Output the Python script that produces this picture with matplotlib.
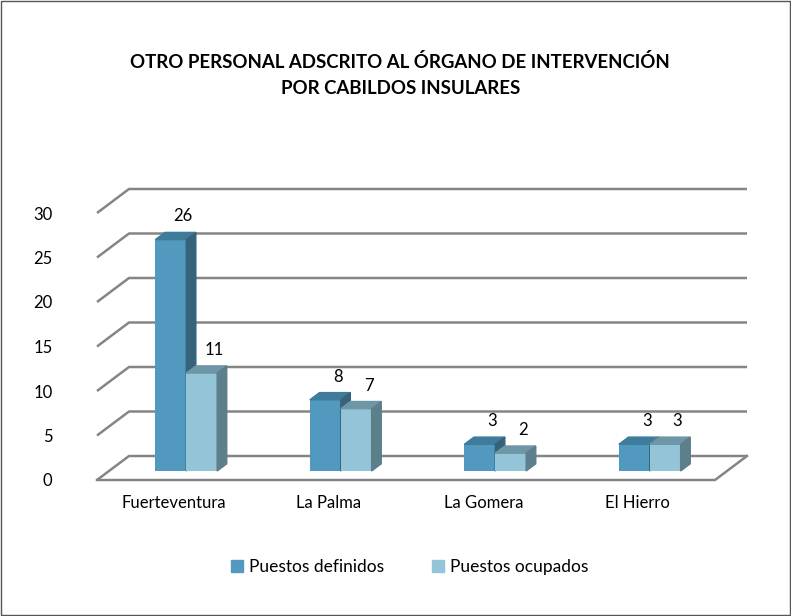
import numpy as np
import matplotlib.pyplot as plt
from matplotlib.patches import Polygon, Patch, Rectangle

plt.rcParams['font.family'] = ['Lato', 'DejaVu Sans']

islas = ['Fuerteventura', 'La Palma', 'La Gomera', 'El Hierro']
definidos = [26, 8, 3, 3]
ocupados = [11, 7, 2, 3]
series = ['Puestos definidos', 'Puestos ocupados']
yticks = [0, 5, 10, 15, 20, 25, 30]

# colours: front, top, side
col_def = ('#5199be', '#3f7c9b', '#35637c')
col_ocu = ('#93c4d7', '#6f96a7', '#5d7e8b')
grid_col = '#858585'

fig = plt.figure(figsize=(7.91, 6.16), dpi=100)
fig.patches.append(Rectangle((0.0008, 0.001), 0.998, 0.997, transform=fig.transFigure,
                             fill=False, edgecolor='#555555', lw=1))
ax = fig.add_axes([97 / 791, 136 / 616, 618 / 791, 267 / 616])
ax.set_xlim(0, 4)
ax.set_ylim(0, 30)

# depth of the floor in data units
DX, DY = 32 / 154.5, 24 / 8.9
n = len(islas)

# back wall gridlines + left diagonals
for v in yticks:
    ax.plot([0, DX, n + DX], [v, v + DY, v + DY], color=grid_col, lw=1.8,
            clip_on=False, zorder=1, solid_capstyle='butt')
# floor front edge and right side
ax.plot([0, n, n + DX], [0, 0, DY], color=grid_col, lw=1.8, clip_on=False, zorder=1)

# bars sit at mid depth of the floor
fx, fy = 0.375 * DX, 0.375 * DY
bx, by = 0.3 * DX, 0.3 * DY
w = 0.2
x = np.arange(n) + 0.5

for i in range(n):
    for k, (vals, cols) in enumerate([(definidos, col_def), (ocupados, col_ocu)]):
        v = vals[i]
        x0 = x[i] - w + k * w + fx
        x1 = x0 + w
        y0 = fy
        y1 = fy + v
        ax.bar(x0, v, width=w, bottom=y0, align='edge', color=cols[0],
               clip_on=False, zorder=3 + i * 2 + k)
        ax.add_patch(Polygon([(x0, y1), (x1, y1), (x1 + bx, y1 + by), (x0 + bx, y1 + by)],
                             closed=True, color=cols[1], clip_on=False, zorder=3 + i * 2 + k))
        ax.add_patch(Polygon([(x1, y0), (x1 + bx, y0 + by), (x1 + bx, y1 + by), (x1, y1)],
                             closed=True, color=cols[2], clip_on=False, zorder=3 + i * 2 + k))
        ax.text(x0 + w / 2 + 0.08, y1 + 2.6, str(v), ha='center', va='center',
                fontsize=12, color='black', zorder=20)

ax.set_yticks(yticks)
ax.set_xticks(x)
ax.set_xticklabels(islas)
ax.tick_params(axis='y', length=0, pad=32, labelsize=12)
ax.tick_params(axis='x', length=0, pad=11, labelsize=12)
for s in ax.spines.values():
    s.set_visible(False)
ax.patch.set_visible(False)

fig.text(0.506, 0.878, 'OTRO PERSONAL ADSCRITO AL ÓRGANO DE INTERVENCIÓN\nPOR CABILDOS INSULARES',
         ha='center', va='center', fontsize=13.4, fontweight='bold', linespacing=1.6)

handles = [Patch(color=col_def[0]), Patch(color=col_ocu[0])]
fig.legend(handles, series, loc='center', bbox_to_anchor=(0.518, 0.079), ncol=2,
           frameon=False, fontsize=12.5, handlelength=0.65, handleheight=0.65,
           handletextpad=0.35, columnspacing=2.8)

fig.savefig('out.png', dpi=100)
